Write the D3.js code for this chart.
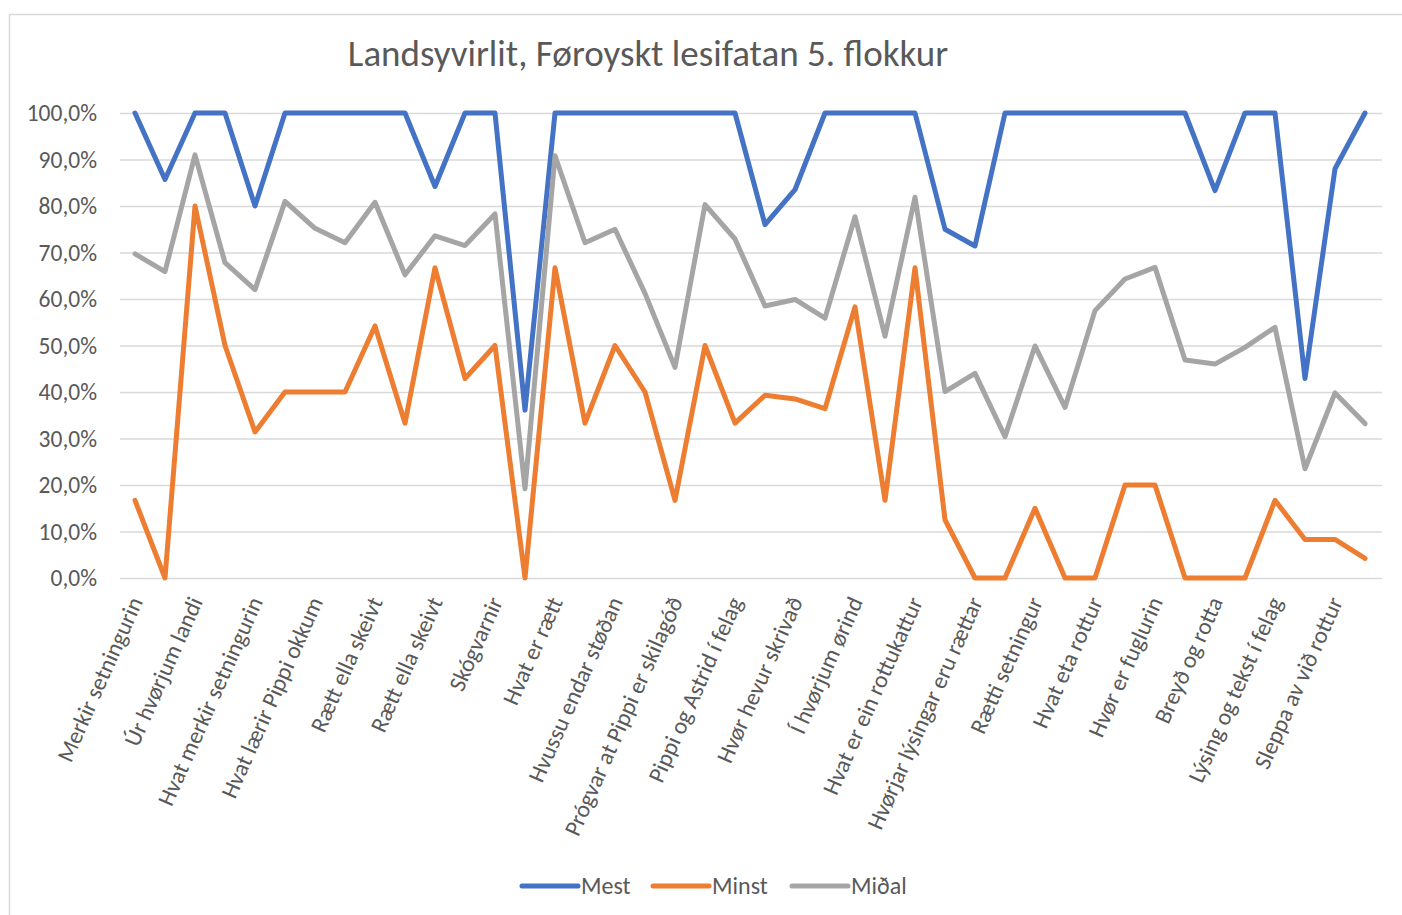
<!DOCTYPE html>
<html>
<head>
<meta charset="utf-8">
<script src="https://cdn.jsdelivr.net/npm/d3@7"></script>
<style>
  body { margin: 0; background: #fff; }
  text { font-family: Calibri, Carlito, 'Open Sans', sans-serif; fill: #595959; }
</style>
</head>
<body>
<svg id="chart" width="1402" height="915"></svg>
<script>
// only every second category shows a label on the axis
const labels = [
  'Merkir setningurin', 'Úr hvørjum landi', 'Hvat merkir setningurin',
  'Hvat lærir Pippi okkum', 'Rætt ella skeivt', 'Rætt ella skeivt', 'Skógvarnir',
  'Hvat er rætt', 'Hvussu endar støðan', 'Prógvar at Pippi er skilagóð',
  'Pippi og Astrid í felag', 'Hvør hevur skrivað', 'Í hvørjum ørind',
  'Hvat er ein rottukattur', 'Hvørjar lýsingar eru rættar', 'Rætti setningur',
  'Hvat eta rottur', 'Hvør er fuglurin', 'Breyð og rotta',
  'Lýsing og tekst í felag', 'Sleppa av við rottur'
];

const mest = [
  100, 85.7, 100, 100, 80, 100, 100, 100, 100, 100, 84.2, 100,
  100, 36.1, 100, 100, 100, 100, 100, 100, 100, 76, 83.5, 100, 100, 100, 100,
  75, 71.4, 100, 100, 100, 100, 100, 100, 100, 83.3, 100, 100, 42.9, 88, 100
];
const minst = [
  16.7, 0, 80, 50, 31.4, 40, 40, 40, 54.2, 33.3, 66.7, 42.9,
  50, 0, 66.7, 33.3, 50, 40, 16.7, 50, 33.3, 39.3, 38.5, 36.4, 58.3, 16.7, 66.7,
  12.5, 0, 0, 15, 0, 0, 20, 20, 0, 0, 0, 16.7, 8.3, 8.3, 4.2
];
const midal = [
  69.7, 65.9, 91, 67.8, 62, 81, 75.2, 72.1, 80.8, 65.2, 73.6, 71.5,
  78.3, 19.2, 90.8, 72.1, 75, 61.2, 45.3, 80.3, 72.9, 58.5, 59.9, 55.9, 77.7, 52, 81.9,
  40.1, 44, 30.4, 49.9, 36.7, 57.5, 64.3, 66.8, 46.9, 46, 49.6, 53.9, 23.5, 39.8, 33.2
];

const yTicks = [0, 10, 20, 30, 40, 50, 60, 70, 80, 90, 100];

const series = [
  { name: 'Mest', values: mest, color: '#4472C4' },
  { name: 'Minst', values: minst, color: '#ED7D31' },
  { name: 'Miðal', values: midal, color: '#A5A5A5' }
];

let svg = d3.select('#chart'),
  plotLeft = 120,
  plotRight = 1380,
  plotTop = 113,
  plotBottom = 578;

// chart frame
svg.append('rect')
  .attr('x', 9.5).attr('y', 14.5)
  .attr('width', 1400).attr('height', 910)
  .attr('fill', 'none')
  .attr('stroke', '#d9d9d9')
  .attr('stroke-width', 1.5);

svg.append('text')
  .attr('x', 648).attr('y', 66)
  .attr('text-anchor', 'middle')
  .style('font-size', '37px')
  .text('Landsyvirlit, Føroyskt lesifatan 5. flokkur');

let x = d3.scaleBand()
  .domain(d3.range(mest.length))
  .range([plotLeft, plotRight]);

let y = d3.scaleLinear()
  .domain([0, 100])
  .range([plotBottom, plotTop]);

// gridlines and y labels
let yAxis = svg.append('g')
  .attr('transform', `translate(${plotLeft},0)`)
  .call(d3.axisLeft(y)
    .tickValues(yTicks)
    .tickSize(-(plotRight - plotLeft + 2))
    .tickPadding(23)
    .tickFormat(d => d.toFixed(1).replace('.', ',') + '%'));
yAxis.select('.domain').remove();
yAxis.selectAll('.tick line')
  .attr('stroke', '#d9d9d9')
  .attr('stroke-width', 1.5);
yAxis.selectAll('.tick text')
  .style('font-size', '23.5px')
  .attr('fill', '#595959');

// category labels, every second one
let xAxis = svg.append('g')
  .attr('transform', `translate(0,${plotBottom})`)
  .call(d3.axisBottom(x)
    .tickValues(d3.range(0, mest.length, 2))
    .tickSize(0)
    .tickFormat(i => labels[i / 2]));
xAxis.select('.domain').remove();
xAxis.selectAll('.tick text')
  .attr('text-anchor', 'end')
  .attr('dy', '0.35em')
  .attr('transform', 'translate(-2,19) rotate(-66)')
  .style('font-size', '23.5px')
  .attr('fill', '#595959');

let line = d3.line()
  .x((d, i) => x(i) + x.bandwidth() / 2)
  .y(d => y(d));

svg.append('g')
  .selectAll('path')
  .data(series)
  .enter()
  .append('path')
  .attr('d', s => line(s.values))
  .attr('fill', 'none')
  .attr('stroke', s => s.color)
  .attr('stroke-width', 5)
  .attr('stroke-linejoin', 'round')
  .attr('stroke-linecap', 'round');

// legend
let legendX = [522, 653, 792];
let legend = svg.append('g')
  .selectAll('g')
  .data(series)
  .enter()
  .append('g')
  .attr('transform', (s, i) => `translate(${legendX[i]},886)`);
legend.append('line')
  .attr('x1', 0).attr('x2', 56)
  .attr('stroke', s => s.color)
  .attr('stroke-width', 5)
  .attr('stroke-linecap', 'round');
legend.append('text')
  .attr('x', 59)
  .attr('dy', '0.35em')
  .style('font-size', '24px')
  .text(s => s.name);
</script>
</body>
</html>
